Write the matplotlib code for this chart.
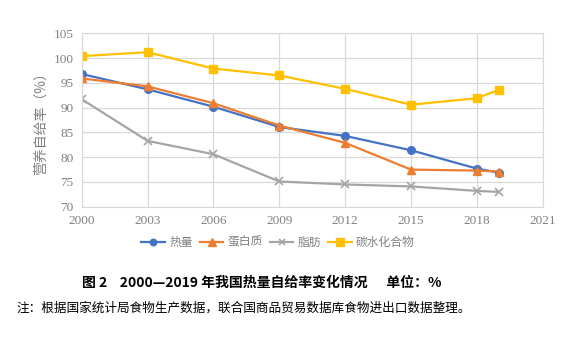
import matplotlib.pyplot as plt

plt.rcParams['font.family'] = ['Noto Sans CJK SC', 'DejaVu Sans']

years = [2000, 2003, 2006, 2009, 2012, 2015, 2018, 2019]
heat = [96.8, 93.7, 90.2, 86.1, 84.3, 81.4, 77.7, 76.9]
protein = [95.9, 94.3, 90.9, 86.4, 82.9, 77.5, 77.3, 77.1]
fat = [91.7, 83.3, 80.6, 75.1, 74.5, 74.1, 73.2, 73.0]
carbs = [100.4, 101.2, 97.9, 96.5, 93.8, 90.6, 91.9, 93.6]

xticks = [2000, 2003, 2006, 2009, 2012, 2015, 2018, 2021]
yticks = [70, 75, 80, 85, 90, 95, 100, 105]

fig = plt.figure(figsize=(5.72, 3.44), dpi=100, facecolor='w')
ax = fig.add_axes([0.1428, 0.399, 0.806, 0.504])

ax.plot(years, heat, color='#4472C4', lw=1.6, marker='o', ms=5.5, label='热量')
ax.plot(years, protein, color='#ED7D31', lw=1.6, marker='^', ms=6, label='蛋白质')
ax.plot(years, fat, color='#A5A5A5', lw=1.6, marker='x', ms=5.5, mew=1.2, label='脂肪')
ax.plot(years, carbs, color='#FFC000', lw=1.6, marker='s', ms=6, label='碳水化合物')

ax.set_xlim(2000, 2021)
ax.set_ylim(70, 105)
ax.set_xticks(xticks)
ax.set_yticks(yticks)
ax.grid(True, color='#D9D9D9', lw=0.9)
ax.set_axisbelow(True)
for s in ax.spines.values():
    s.set_color('#D9D9D9')
ax.tick_params(length=0, pad=6, colors='#808080')
for lab in ax.get_xticklabels() + ax.get_yticklabels():
    lab.set_family('Liberation Serif')
    lab.set_fontsize(9.5)

ax.set_ylabel('营养自给率（%）', fontsize=10, color='#808080', labelpad=4)

fig.legend(loc='center', bbox_to_anchor=(0.486, 0.296), ncol=4, frameon=False,
           fontsize=8.5, labelcolor='#808080', handlelength=2.0, columnspacing=0.6,
           handletextpad=0.35, markerscale=0.85)

fig.text(0.457, 0.177, '图 2    2000—2019 年我国热量自给率变化情况      单位：%',
         ha='center', va='center', fontsize=10, fontweight='bold', color='black')
fig.text(0.028, 0.105, '注：根据国家统计局食物生产数据，联合国商品贸易数据库食物进出口数据整理。',
         ha='left', va='center', fontsize=9.1, color='black')

plt.savefig('out.png', dpi=100)
